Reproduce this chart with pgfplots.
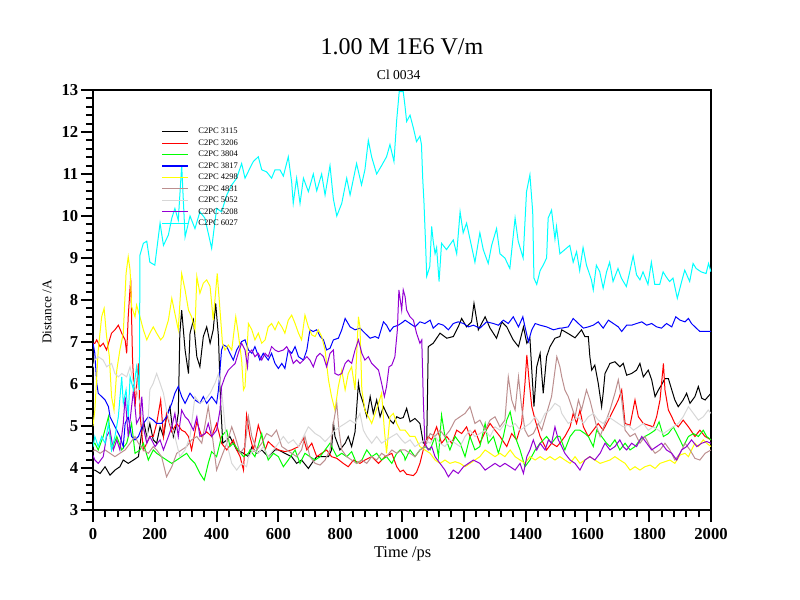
\documentclass[border=0pt]{standalone}
\usepackage{fontspec}
\setmainfont{Liberation Serif}
\usepackage{pgfplots}
\pgfplotsset{compat=1.18}
\definecolor{rosy}{RGB}{188,143,143}
\definecolor{lgray}{RGB}{215,215,215}
\definecolor{dviolet}{RGB}{148,0,211}
\definecolor{cblack}{RGB}{0,0,0}
\definecolor{cred}{RGB}{255,0,0}
\definecolor{cgreen}{RGB}{0,255,0}
\definecolor{cblue}{RGB}{0,0,255}
\definecolor{cyellow}{RGB}{255,255,0}
\definecolor{ccyan}{RGB}{0,255,255}
\begin{document}
\begin{tikzpicture}[x=1pt,y=1pt]
\path[use as bounding box] (0,0) rectangle (600,450);
\node[font=\fontsize{18}{20}\selectfont] at (301.5,414.75) {1.00 M 1E6 V/m};
\node[font=\fontsize{10.2}{12}\selectfont] at (299,393.75) {Cl 0034};
\node[font=\fontsize{12.3}{14}\selectfont, inner sep=0pt] at (302,34.5) {Time /ps};
\node[font=\fontsize{10}{12}\selectfont, rotate=90] at (35.25,216) {Distance /A};
\begin{axis}[
  at={(69.75pt,67.5pt)}, anchor=south west,
  scale only axis, width=463.5pt, height=315pt,
  xmin=0, xmax=2000, ymin=3, ymax=13,
  xtick distance=200, minor x tick num=4,
  ytick distance=1, minor y tick num=4,
  tick align=outside, xtick pos=bottom, ytick pos=left,
  major tick length=9pt, minor tick length=5.25pt,
  axis line style={line width=2pt},
  major tick style={line width=1.5pt, black},
  minor tick style={line width=1.5pt, black},
  ticklabel style={font=\fontsize{12.5}{14}\selectfont\bfseries},
  xticklabel style={yshift=-3.5pt, inner ysep=1pt},
  yticklabel style={xshift=1.5pt},
  /pgf/number format/assume math mode=true,
  /pgf/number format/set thousands separator={},
  legend style={at={(rel axis cs:0.111,0.912)}, anchor=north west, draw=none, fill=none,
    inner sep=0pt, font=\fontsize{6.4}{7}\selectfont,
    nodes={inner sep=0.6pt, text height=4.4pt, text depth=1pt}, row sep=2.0pt},
  legend cell align=left,
  legend image code/.code={\draw[#1, line width=0.8pt] (0pt,0pt) -- (19pt,0pt);},
  /tikz/every even column/.append style={column sep=0pt},
  /tikz/every odd column/.append style={column sep=7pt},
  every axis plot/.append style={line width=0.75pt},
]
% C2PC 3115
\addplot[cblack] coordinates {(0,3.95)(6,3.95)(23,3.87)(39,4.03)(55,3.83)(71,3.95)(87,4.03)(98,4.19)(114,4.11)(131,4.19)(147,4.27)(163,5.14)(174,4.75)(184,5.06)(195,4.67)(206,4.59)(217,4.98)(228,4.75)(238,5.22)(249,5.46)(260,4.75)(271,5.06)(276,5.30)(281,7.20)(287,7.76)(298,6.81)(309,6.25)(314,7.21)(325,7.52)(336,6.65)(346,6.41)(357,7.13)(368,7.36)(379,6.97)(389,7.29)(397,7.92)(406,7.13)(413,5.54)(420,4.59)(433,4.67)(443,4.75)(465,4.43)(487,4.35)(503,4.27)(514,4.50)(530,4.35)(546,4.43)(567,4.27)(589,4.43)(600,4.43)(621,4.35)(643,4.27)(659,4.11)(675,4.19)(697,3.99)(708,4.11)(724,4.27)(746,4.27)(762,4.27)(772,4.43)(778,5.10)(783,4.75)(799,4.43)(816,4.59)(826,4.75)(837,4.51)(848,4.86)(859,6.02)(864,5.78)(875,5.54)(886,5.22)(897,5.70)(907,5.30)(918,5.62)(929,5.22)(940,5.46)(950,5.30)(961,5.14)(972,5.06)(983,5.22)(994,5.18)(1004,5.20)(1015,5.42)(1026,5.10)(1042,5.18)(1058,5.06)(1069,4.59)(1080,4.59)(1085,6.89)(1101,6.97)(1123,7.21)(1145,7.09)(1166,7.13)(1182,7.36)(1193,7.56)(1209,7.36)(1225,7.48)(1233,7.92)(1247,7.29)(1269,7.60)(1285,7.33)(1306,7.09)(1323,7.48)(1339,7.36)(1360,7.05)(1377,6.89)(1393,7.36)(1404,6.97)(1414,7.09)(1420,6.33)(1427,5.46)(1436,6.41)(1447,6.73)(1457,5.78)(1468,6.65)(1479,6.89)(1495,7.09)(1511,7.13)(1517,7.29)(1538,7.20)(1560,7.10)(1581,7.29)(1592,7.13)(1603,7.13)(1608,6.65)(1614,6.33)(1624,6.45)(1635,6.02)(1646,5.46)(1651,5.78)(1657,6.25)(1673,6.49)(1689,6.53)(1705,6.41)(1716,6.49)(1727,6.21)(1743,6.25)(1759,6.33)(1770,6.49)(1781,6.17)(1797,6.33)(1808,6.10)(1819,5.70)(1830,5.86)(1840,5.98)(1851,6.13)(1862,6.13)(1873,5.86)(1883,5.62)(1894,5.46)(1910,5.62)(1921,5.78)(1932,5.54)(1948,5.70)(1959,5.94)(1970,5.66)(1981,5.62)(2000,5.78)};
\addlegendentry{C2PC 3115}
% C2PC 3206
\addplot[cred] coordinates {(0,6.97)(6,6.97)(12,7.05)(23,6.89)(33,6.97)(44,6.81)(60,7.21)(71,7.29)(82,7.40)(93,7.21)(104,7.05)(109,6.73)(114,7.60)(122,8.52)(128,6.57)(136,5.46)(147,6.49)(152,5.30)(163,4.43)(174,4.59)(184,4.75)(195,4.75)(206,5.06)(219,5.62)(228,4.75)(238,5.30)(255,4.86)(271,5.06)(287,4.90)(298,4.86)(309,4.75)(319,4.43)(336,5.10)(352,4.75)(368,4.86)(384,4.75)(400,5.06)(416,4.59)(433,4.43)(454,4.67)(465,4.43)(476,4.27)(487,3.95)(497,5.26)(508,4.75)(519,4.43)(535,5.02)(546,4.75)(557,4.43)(567,4.63)(584,4.51)(600,4.43)(621,4.39)(643,4.43)(665,4.51)(681,4.71)(692,4.43)(708,4.59)(724,4.27)(740,4.35)(756,4.43)(772,4.27)(789,4.23)(810,4.11)(826,4.03)(843,4.19)(864,4.11)(880,4.19)(902,4.27)(924,4.11)(945,4.27)(967,4.35)(983,4.03)(994,3.91)(1004,3.95)(1015,3.85)(1037,3.82)(1047,3.90)(1058,4.11)(1074,4.59)(1085,4.75)(1096,4.67)(1112,4.98)(1128,4.59)(1145,4.75)(1161,4.59)(1177,4.90)(1193,4.82)(1209,4.98)(1220,4.75)(1236,4.90)(1252,4.59)(1269,4.86)(1285,5.06)(1301,4.90)(1317,4.75)(1339,4.51)(1355,4.82)(1371,4.67)(1387,5.06)(1398,6.02)(1404,6.69)(1412,6.02)(1420,5.46)(1431,5.14)(1447,4.75)(1468,4.43)(1484,4.59)(1501,4.51)(1511,4.59)(1527,4.75)(1544,4.98)(1554,5.30)(1565,5.06)(1576,5.38)(1587,4.98)(1603,4.75)(1619,4.90)(1635,5.06)(1651,4.90)(1668,5.14)(1684,5.38)(1700,5.62)(1711,5.86)(1722,5.06)(1738,5.02)(1754,5.62)(1765,5.22)(1781,5.06)(1797,5.02)(1813,4.98)(1824,5.22)(1835,5.62)(1846,6.49)(1851,5.86)(1862,5.38)(1873,5.22)(1883,5.06)(1894,4.98)(1910,5.14)(1927,4.98)(1948,4.75)(1964,4.90)(1981,4.75)(2000,4.67)};
\addlegendentry{C2PC 3206}
% C2PC 3804
\addplot[cgreen] coordinates {(0,4.55)(6,4.59)(17,4.43)(33,4.75)(50,5.22)(60,4.43)(77,4.75)(93,4.43)(109,4.59)(125,5.06)(136,4.35)(152,4.43)(163,4.59)(179,4.19)(195,4.43)(206,4.35)(222,4.27)(238,4.19)(255,4.11)(271,4.19)(287,4.27)(303,4.35)(314,4.23)(330,4.11)(346,3.87)(360,3.71)(373,4.11)(384,4.39)(400,4.27)(416,4.75)(433,4.90)(443,4.51)(454,4.59)(470,4.43)(487,4.27)(503,4.35)(508,4.43)(524,4.27)(546,4.82)(557,4.43)(567,4.19)(584,4.35)(600,4.27)(616,4.03)(632,4.19)(654,4.43)(670,4.11)(686,4.35)(702,4.27)(719,4.19)(735,4.27)(751,4.43)(767,4.59)(778,4.43)(789,4.27)(805,4.35)(821,4.27)(837,4.39)(853,4.11)(870,4.19)(886,4.43)(902,4.27)(918,4.35)(934,4.19)(950,4.27)(967,4.11)(983,4.35)(994,4.43)(1008,4.27)(1010,4.19)(1026,4.43)(1042,4.27)(1058,4.43)(1074,4.51)(1091,4.43)(1107,4.75)(1118,4.27)(1128,5.26)(1139,4.75)(1155,4.43)(1172,4.75)(1188,4.59)(1204,4.27)(1220,4.75)(1236,4.43)(1252,4.51)(1269,5.06)(1279,4.59)(1296,4.75)(1312,4.35)(1328,4.75)(1339,5.14)(1350,5.34)(1366,4.75)(1382,4.43)(1398,4.03)(1414,4.19)(1431,4.43)(1447,4.59)(1468,4.75)(1484,4.59)(1501,4.75)(1511,4.75)(1527,4.43)(1544,4.75)(1560,4.90)(1576,4.90)(1592,4.82)(1603,4.75)(1619,4.51)(1630,4.90)(1646,4.75)(1662,4.59)(1673,4.51)(1689,4.67)(1705,4.43)(1722,4.59)(1738,4.43)(1754,4.51)(1770,4.67)(1786,4.75)(1803,4.82)(1819,4.90)(1832,5.10)(1846,4.75)(1862,4.82)(1878,4.98)(1894,4.75)(1910,4.51)(1927,4.75)(1943,4.82)(1959,4.75)(1975,4.90)(1986,4.75)(2000,4.67)};
\addlegendentry{C2PC 3804}
% C2PC 3817
\addplot[cblue] coordinates {(0,6.97)(6,6.73)(12,6.02)(17,5.78)(28,5.70)(39,5.62)(50,5.46)(55,5.22)(66,5.06)(77,4.90)(87,4.75)(98,4.51)(104,5.06)(114,5.22)(125,4.75)(136,4.67)(147,4.75)(163,5.06)(179,5.22)(195,5.14)(206,5.06)(222,5.06)(238,5.22)(255,5.54)(265,5.78)(276,5.94)(287,5.70)(298,5.54)(314,5.78)(330,5.62)(346,5.54)(357,5.70)(368,5.54)(384,5.70)(400,5.54)(406,5.86)(416,6.81)(422,6.93)(433,6.89)(443,6.73)(454,6.57)(465,6.81)(481,7.01)(492,7.05)(503,6.81)(514,6.73)(524,6.89)(540,6.57)(551,6.73)(567,6.57)(578,6.73)(589,6.49)(600,6.37)(611,6.49)(621,6.37)(632,6.81)(643,6.73)(654,6.89)(665,6.65)(681,6.57)(692,6.81)(702,7.29)(713,7.25)(724,7.29)(735,7.13)(746,7.05)(756,6.81)(767,6.85)(778,7.05)(794,7.09)(805,7.29)(816,7.56)(832,7.36)(848,7.29)(864,7.33)(880,7.21)(897,7.09)(913,7.13)(924,7.09)(940,7.48)(950,7.40)(961,7.25)(972,7.36)(988,7.40)(1004,7.48)(1010,7.52)(1026,7.44)(1042,7.36)(1058,7.48)(1074,7.44)(1091,7.52)(1101,7.33)(1118,7.44)(1134,7.40)(1150,7.29)(1166,7.44)(1182,7.48)(1199,7.44)(1215,7.36)(1231,7.40)(1252,7.33)(1274,7.48)(1296,7.44)(1312,7.40)(1328,7.52)(1344,7.44)(1360,7.60)(1377,7.36)(1391,7.60)(1398,7.36)(1409,7.01)(1420,7.29)(1431,7.44)(1447,7.40)(1468,7.36)(1490,7.29)(1511,7.33)(1517,7.33)(1538,7.36)(1554,7.56)(1571,7.44)(1587,7.33)(1603,7.36)(1619,7.40)(1635,7.48)(1651,7.33)(1668,7.52)(1684,7.44)(1700,7.36)(1711,7.25)(1727,7.40)(1743,7.40)(1759,7.44)(1776,7.48)(1792,7.40)(1808,7.44)(1824,7.36)(1840,7.33)(1856,7.44)(1873,7.36)(1886,7.60)(1900,7.52)(1916,7.48)(1927,7.56)(1937,7.44)(1948,7.36)(1964,7.25)(1981,7.25)(2000,7.25)};
\addlegendentry{C2PC 3817}
% C2PC 4298
\addplot[cyellow] coordinates {(0,5.00)(6,5.38)(17,6.81)(28,7.60)(36,7.80)(44,7.13)(53,6.65)(60,5.70)(68,5.38)(77,6.33)(87,6.81)(98,7.21)(107,8.63)(114,9.03)(120,8.71)(125,7.84)(136,7.60)(141,7.88)(152,7.60)(163,7.29)(174,7.05)(184,7.21)(195,7.36)(206,7.21)(219,7.05)(228,7.13)(244,7.52)(255,8.04)(265,7.68)(276,7.29)(287,8.63)(298,8.24)(309,7.76)(319,7.60)(330,7.29)(336,8.56)(346,8.16)(357,8.40)(368,8.48)(379,8.32)(389,7.52)(402,8.63)(411,7.76)(419,6.97)(427,6.81)(438,6.93)(449,6.81)(462,7.60)(470,7.21)(481,6.57)(487,5.86)(492,5.94)(503,7.44)(514,7.29)(524,7.05)(535,7.21)(546,6.97)(557,7.05)(567,7.36)(578,7.44)(589,7.29)(600,7.48)(611,7.36)(621,7.21)(632,7.52)(643,7.64)(654,7.44)(665,7.21)(675,7.05)(686,7.64)(697,7.36)(708,7.17)(719,7.13)(729,7.29)(740,7.13)(751,6.81)(762,6.10)(772,5.70)(783,5.38)(794,5.94)(805,6.33)(816,5.86)(826,6.25)(837,6.41)(848,5.86)(859,7.60)(864,7.36)(870,5.86)(880,5.38)(891,5.22)(902,5.06)(913,5.30)(924,5.54)(934,5.78)(943,4.90)(950,4.35)(961,5.22)(972,5.30)(983,5.06)(994,4.90)(1010,4.90)(1026,4.75)(1042,4.75)(1058,4.51)(1074,4.43)(1091,4.35)(1107,4.19)(1123,4.11)(1139,4.19)(1155,4.11)(1172,4.15)(1188,4.11)(1204,4.03)(1220,4.11)(1236,4.19)(1252,4.27)(1269,4.43)(1285,4.35)(1301,4.27)(1317,4.35)(1333,4.27)(1350,4.43)(1366,4.27)(1382,4.19)(1398,4.11)(1414,4.27)(1431,4.19)(1447,4.27)(1463,4.19)(1479,4.27)(1495,4.19)(1511,4.27)(1527,4.19)(1544,4.11)(1560,4.27)(1576,4.11)(1592,4.19)(1608,4.27)(1624,4.19)(1641,4.11)(1657,4.15)(1673,4.19)(1689,4.27)(1705,4.19)(1722,4.11)(1738,3.95)(1754,4.03)(1770,3.95)(1786,4.03)(1803,4.07)(1819,3.99)(1835,4.11)(1851,4.15)(1867,4.19)(1883,4.11)(1900,4.31)(1916,4.35)(1927,4.27)(1937,4.43)(1948,4.59)(1959,4.51)(1975,4.67)(1986,4.59)(2000,4.51)};
\addlegendentry{C2PC 4298}
% C2PC 4831
\addplot[rosy] coordinates {(0,4.40)(6,4.43)(23,4.35)(39,4.43)(55,4.35)(71,4.27)(87,4.35)(104,4.43)(120,4.59)(136,4.75)(147,4.59)(163,4.43)(179,4.35)(195,4.51)(206,4.43)(222,4.27)(238,3.79)(255,4.03)(271,4.35)(287,4.43)(303,4.51)(319,4.67)(336,4.75)(352,4.59)(373,5.46)(384,4.90)(400,3.95)(416,4.27)(433,4.59)(449,4.98)(460,4.75)(476,4.35)(492,4.51)(503,5.22)(514,4.75)(530,4.43)(546,4.59)(562,4.82)(578,4.75)(594,4.90)(611,4.51)(627,4.43)(643,4.35)(659,4.27)(675,4.43)(686,4.75)(702,4.27)(719,4.11)(735,4.07)(751,4.19)(767,4.43)(778,5.06)(789,5.54)(796,4.90)(805,4.43)(821,4.27)(837,4.19)(853,4.11)(870,4.19)(886,4.11)(902,4.27)(918,4.19)(934,4.35)(950,4.27)(967,4.43)(983,4.35)(999,4.43)(1010,4.43)(1026,4.35)(1042,4.27)(1058,4.43)(1074,4.51)(1091,4.82)(1107,4.75)(1123,4.90)(1139,4.75)(1155,4.90)(1172,5.14)(1188,5.22)(1204,5.30)(1220,5.46)(1236,5.06)(1252,5.14)(1269,4.90)(1285,5.14)(1301,5.22)(1317,4.98)(1333,5.14)(1344,6.17)(1355,5.62)(1366,5.38)(1377,6.17)(1387,5.46)(1398,4.90)(1409,4.75)(1425,4.82)(1441,5.06)(1452,4.90)(1468,5.30)(1484,5.70)(1501,6.65)(1511,6.41)(1517,6.17)(1527,5.86)(1538,5.70)(1549,5.46)(1560,5.22)(1571,5.62)(1581,5.38)(1597,5.86)(1608,5.62)(1619,5.30)(1630,4.98)(1641,4.75)(1657,5.06)(1673,5.38)(1689,5.78)(1700,6.10)(1711,5.62)(1722,4.90)(1738,4.75)(1754,4.82)(1770,4.59)(1786,4.75)(1803,4.51)(1819,4.35)(1835,4.43)(1851,4.59)(1867,4.43)(1883,4.19)(1900,4.35)(1916,4.59)(1932,4.43)(1948,4.23)(1964,4.19)(1981,4.35)(2000,4.43)};
\addlegendentry{C2PC 4831}
% C2PC 5052
\addplot[lgray] coordinates {(0,6.40)(6,6.57)(17,6.65)(33,6.57)(44,6.41)(60,6.49)(71,6.25)(82,6.17)(93,6.25)(109,6.17)(120,6.41)(131,6.02)(141,5.86)(152,5.54)(163,4.98)(174,4.59)(184,5.86)(195,6.02)(206,6.25)(217,6.02)(228,5.78)(238,5.38)(249,5.06)(265,4.75)(281,4.27)(298,4.43)(314,4.75)(330,5.70)(346,5.54)(363,5.62)(379,5.78)(395,6.02)(406,6.25)(416,5.86)(433,4.59)(449,4.11)(465,3.95)(481,4.11)(497,4.03)(503,4.27)(519,4.43)(535,4.35)(551,4.51)(567,4.27)(584,4.43)(600,4.59)(616,4.75)(632,4.59)(648,4.67)(665,4.51)(681,4.75)(697,4.98)(708,4.90)(719,4.82)(735,4.75)(751,4.63)(767,4.75)(783,4.90)(799,4.98)(816,5.06)(832,5.14)(848,5.06)(864,5.30)(875,4.90)(886,4.75)(902,4.59)(918,4.75)(934,4.59)(950,4.67)(967,4.75)(983,4.82)(999,4.67)(1010,4.59)(1026,4.67)(1042,4.51)(1058,4.59)(1074,4.67)(1091,4.59)(1107,4.75)(1123,4.59)(1139,4.51)(1155,4.67)(1172,4.59)(1188,4.51)(1204,4.75)(1220,4.90)(1236,4.75)(1252,4.82)(1269,4.90)(1285,4.75)(1301,4.98)(1317,4.90)(1333,5.06)(1350,4.98)(1366,5.06)(1382,4.90)(1398,4.98)(1414,5.06)(1431,5.22)(1447,5.06)(1463,5.30)(1479,5.38)(1495,5.54)(1511,5.46)(1517,5.30)(1538,5.06)(1554,5.14)(1571,5.22)(1587,5.06)(1603,5.22)(1619,5.30)(1635,5.14)(1651,5.06)(1668,5.22)(1684,5.14)(1700,5.06)(1716,4.98)(1732,5.02)(1749,4.90)(1765,4.98)(1781,5.06)(1797,4.90)(1813,4.98)(1830,4.90)(1846,4.82)(1862,4.90)(1878,4.98)(1894,5.06)(1910,5.22)(1927,5.46)(1943,5.30)(1959,5.14)(1975,5.22)(1991,5.38)(2000,5.30)};
\addlegendentry{C2PC 5052}
% C2PC 5208
\addplot[dviolet] coordinates {(0,4.30)(6,4.19)(17,4.11)(33,4.27)(44,4.75)(55,4.90)(66,4.43)(77,4.67)(87,4.43)(98,5.06)(104,5.70)(114,4.75)(131,5.86)(141,5.06)(152,5.22)(158,5.70)(165,4.90)(174,4.59)(184,4.75)(201,4.51)(217,4.67)(228,4.43)(244,4.75)(255,4.98)(265,5.30)(276,4.75)(287,5.38)(298,5.22)(309,5.14)(325,4.90)(336,5.22)(346,4.75)(363,4.82)(373,5.06)(384,4.75)(400,4.90)(411,5.38)(416,5.94)(427,6.17)(438,6.33)(449,6.41)(460,6.49)(470,6.73)(481,6.97)(492,6.81)(500,6.41)(503,6.73)(514,6.81)(524,6.65)(535,6.73)(546,6.57)(557,6.73)(567,6.65)(578,6.89)(589,6.81)(600,6.77)(616,6.81)(627,6.89)(638,6.73)(648,6.49)(659,6.57)(670,6.49)(681,6.57)(692,6.65)(702,6.57)(713,6.41)(724,6.65)(735,6.73)(746,6.65)(756,6.41)(767,6.73)(778,6.81)(783,6.25)(794,6.21)(805,6.25)(816,6.49)(826,6.57)(837,6.49)(848,6.81)(859,7.05)(870,6.73)(880,6.57)(891,6.65)(902,6.49)(913,6.41)(924,6.33)(934,6.02)(943,5.70)(950,5.94)(958,6.41)(967,6.45)(977,6.65)(985,7.29)(990,8.24)(999,7.76)(1004,8.24)(1010,8.08)(1015,7.76)(1026,7.60)(1037,7.52)(1047,7.21)(1058,6.97)(1064,7.05)(1069,5.62)(1074,4.59)(1085,4.43)(1096,4.51)(1107,4.27)(1123,4.11)(1139,3.95)(1150,3.79)(1166,3.95)(1182,3.87)(1199,4.03)(1215,4.11)(1231,4.19)(1252,4.11)(1269,3.95)(1285,4.03)(1301,4.11)(1317,4.03)(1333,4.11)(1350,4.03)(1366,3.95)(1382,4.11)(1393,3.87)(1404,4.27)(1414,4.43)(1425,4.67)(1436,4.43)(1447,4.59)(1463,4.43)(1474,4.67)(1484,4.59)(1495,4.98)(1506,4.67)(1517,4.51)(1527,4.35)(1544,4.19)(1560,4.11)(1576,3.95)(1592,4.19)(1608,4.27)(1624,4.19)(1641,4.35)(1657,4.59)(1673,4.43)(1689,4.51)(1705,4.67)(1716,4.51)(1727,4.43)(1743,4.59)(1759,4.51)(1776,4.75)(1792,4.59)(1808,4.43)(1824,4.51)(1840,4.59)(1856,4.43)(1873,4.35)(1889,4.19)(1905,4.43)(1921,4.51)(1937,4.67)(1954,4.51)(1970,4.59)(1986,4.63)(2000,4.59)};
\addlegendentry{C2PC 5208}
% C2PC 6027
\addplot[ccyan] coordinates {(0,4.50)(6,4.75)(17,4.51)(28,4.75)(39,4.59)(50,5.06)(60,4.43)(71,4.75)(82,5.22)(93,6.17)(98,5.54)(107,5.86)(114,5.22)(120,6.17)(131,5.86)(141,6.41)(150,5.86)(152,9.07)(163,9.35)(174,9.40)(184,8.90)(200,8.83)(217,9.83)(228,9.30)(244,9.55)(255,9.95)(265,10.18)(276,9.90)(287,11.20)(298,9.50)(314,10.00)(330,9.70)(346,10.10)(362,9.95)(384,9.23)(400,10.18)(416,10.10)(433,10.50)(449,10.74)(465,10.90)(481,11.25)(492,10.90)(508,11.14)(519,11.30)(535,11.41)(546,11.10)(562,11.05)(578,10.90)(589,11.10)(605,11.10)(616,10.95)(632,11.41)(643,10.80)(648,10.30)(659,10.90)(670,10.30)(681,10.90)(697,10.58)(713,11.00)(724,10.60)(740,11.00)(751,10.50)(767,11.20)(778,10.40)(789,10.00)(805,10.30)(821,10.90)(832,10.50)(853,11.25)(869,10.74)(880,11.10)(891,11.80)(902,11.40)(918,11.00)(934,11.20)(950,11.41)(961,11.70)(974,11.30)(983,12.30)(991,12.96)(1004,12.96)(1010,12.60)(1015,12.25)(1026,12.40)(1037,12.09)(1047,11.77)(1058,11.90)(1063,11.70)(1067,10.90)(1071,10.34)(1076,9.40)(1080,8.56)(1090,8.80)(1096,9.75)(1101,9.40)(1107,9.10)(1112,9.25)(1120,8.44)(1128,9.35)(1144,9.20)(1166,9.43)(1177,9.10)(1188,10.10)(1198,9.60)(1209,9.83)(1220,9.45)(1236,8.90)(1252,9.60)(1263,9.20)(1279,8.87)(1290,9.30)(1306,9.70)(1317,9.10)(1333,9.00)(1349,8.75)(1366,9.95)(1376,9.40)(1392,9.00)(1403,10.58)(1414,10.98)(1423,10.10)(1427,8.52)(1436,8.37)(1447,8.70)(1457,8.83)(1468,9.00)(1473,9.95)(1484,10.14)(1495,9.45)(1500,9.75)(1511,9.10)(1527,9.20)(1543,9.30)(1554,8.90)(1565,9.15)(1575,8.70)(1586,9.25)(1597,8.83)(1613,8.48)(1619,8.24)(1629,8.83)(1640,8.67)(1651,8.28)(1662,8.67)(1672,8.90)(1683,8.44)(1699,8.75)(1710,8.52)(1726,8.32)(1737,8.67)(1748,9.05)(1759,8.60)(1770,8.48)(1780,8.67)(1796,8.37)(1807,8.90)(1818,8.37)(1834,8.37)(1845,8.67)(1855,8.55)(1866,8.44)(1877,8.52)(1891,8.04)(1905,8.44)(1915,8.71)(1931,8.44)(1942,8.87)(1952,8.75)(1968,8.67)(1984,8.63)(1992,8.87)(2000,8.67)};
\addlegendentry{C2PC 6027}
\end{axis}
\end{tikzpicture}
\end{document}
